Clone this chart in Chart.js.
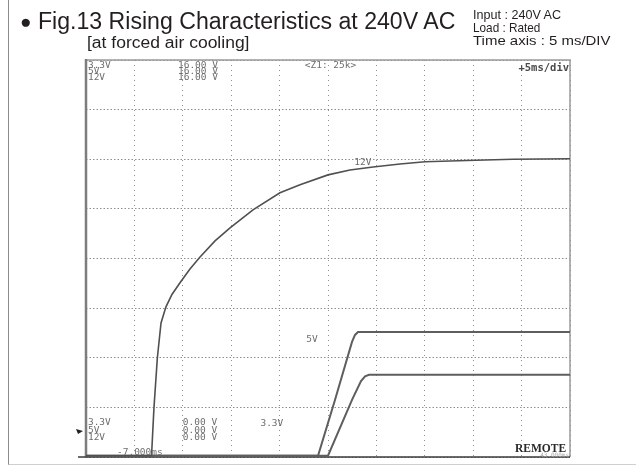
<!DOCTYPE html>
<html>
<head>
<meta charset="utf-8">
<script src="https://cdn.jsdelivr.net/npm/chart.js@4/dist/chart.umd.min.js"></script>
<style>
  html, body { margin: 0; padding: 0; background: #fff; }
  #page { position: relative; width: 636px; height: 467px; overflow: hidden; font-family: "Liberation Sans", Arial, sans-serif; color: #231f20; }
  #frame { position: absolute; left: 8px; top: 0; width: 628px; height: 464px; border-left: 1.5px solid #8c8c8c; border-bottom: 1.5px solid #cfcfcf; }
  .txt { position: absolute; white-space: nowrap; transform-origin: 0 0; }
  #title { left: 20px; top: 8px; font-size: 23px; }
  #title .dot { font-size: 19px; vertical-align: 1px; }
  #sub { left: 87px; top: 34px; font-size: 16px; }
  .cond { left: 473px; font-size: 13px; line-height: 13px; }
  canvas { position: absolute; left: 0; top: 0; }
</style>
</head>
<body>
<div id="page">
  <div id="frame"></div>
  <canvas id="scope" width="636" height="467"></canvas>
  <div class="txt" id="title" data-w="435"><span class="dot">●</span> Fig.13 Rising Characteristics at 240V AC</div>
  <div class="txt" id="sub" data-w="163">[at forced air cooling]</div>
  <div class="txt cond" style="top:8px" data-w="88">Input : 240V AC</div>
  <div class="txt cond" style="top:21px" data-w="67">Load : Rated</div>
  <div class="txt cond" style="top:34px" data-w="137">Time axis : 5 ms/DIV</div>
</div>
<script>
// time in ms (5 ms/div, window -7 ms .. 43 ms), voltage in V (2 V/div)
const gridTimes = [-7, -2, 3, 8, 13, 18, 23, 28, 33, 38, 43];
const gridVolts = [0, 2, 4, 6, 8, 10, 12, 14, 16];

const time12 = [-7, -0.23, 0.02, 0.37, 0.75, 1.26, 1.88, 2.71, 3.74, 4.78, 6.33, 7.88, 10.25, 13.04, 15.11, 18.0, 20.27, 22.65, 25.44, 28.02, 32.36, 37.11, 43];
const volt12 = [0.05, 0.05, 1.98, 3.99, 5.40, 6.05, 6.55, 7.02, 7.58, 8.06, 8.71, 9.23, 9.96, 10.65, 10.97, 11.37, 11.57, 11.69, 11.81, 11.90, 11.95, 12.00, 12.02];

const time5 = [-7, 16.97, 18.72, 20.48, 20.79, 21.10, 43];
const volt5 = [0.05, 0.05, 2.30, 4.64, 4.92, 5.04, 5.04];

const time33 = [-7, 18.0, 20.48, 21.41, 21.83, 22.24, 43];
const volt33 = [0.05, 0.05, 2.30, 3.06, 3.25, 3.31, 3.31];

// scope screen annotations: [text, time, volt, align, style]
const scopeLabels = [
  ['3.3V', -6.8, 15.78, 'left', 'n'], ['5V', -6.8, 15.53, 'left', 'n'], ['12V', -6.8, 15.28, 'left', 'n'],
  ['16.00 V', 2.5, 15.78, 'left', 'n'], ['16.00 V', 2.5, 15.53, 'left', 'n'], ['16.00 V', 2.5, 15.28, 'left', 'n'],
  ['<Z1: 25k>', 15.6, 15.78, 'left', 'n'],
  ['+5ms/div', 42.9, 15.68, 'right', 'b'],
  ['12V', 21.6, 11.85, 'center', 'n'],
  ['5V', 16.35, 4.72, 'center', 'n'],
  ['3.3V', 12.2, 1.33, 'center', 'n'],
  ['3.3V', -6.8, 1.37, 'left', 'n'], ['5V', -6.8, 1.08, 'left', 'n'], ['12V', -6.8, 0.78, 'left', 'n'],
  ['0.00 V', 3.0, 1.37, 'left', 'n'], ['0.00 V', 3.0, 1.08, 'left', 'n'], ['0.00 V', 3.0, 0.78, 'left', 'n'],
  ['-7.000ms', -3.8, 0.20, 'left', 'n'],
  ['43.000ms', 42.9, 0.08, 'right', 's'],
  ['REMOTE', 42.6, 0.32, 'right', 'r']
];

function toPoints(xs, ys) {
    return xs.map((x, i) => ({ x: x, y: ys[i] }));
}

// fit header texts to their measured widths
document.querySelectorAll('.txt').forEach(el => {
    const w = parseFloat(el.dataset.w);
    el.style.transform = 'scaleX(' + (w / el.offsetWidth) + ')';
});

const scopeDecor = {
    id: 'scopeDecor',
    beforeDatasetsDraw(chart) {
        const { ctx, chartArea: a } = chart;
        ctx.save();
        ctx.setLineDash([]);
        // top + right frame
        ctx.strokeStyle = '#9a9a9a';
        ctx.lineWidth = 1.5;
        ctx.beginPath();
        ctx.moveTo(a.left, a.top);
        ctx.lineTo(a.right, a.top);
        ctx.lineTo(a.right, a.bottom);
        ctx.stroke();
        // left frame (thick)
        ctx.strokeStyle = '#7d7d7d';
        ctx.lineWidth = 2.5;
        ctx.beginPath();
        ctx.moveTo(a.left, a.top - 1);
        ctx.lineTo(a.left, a.bottom);
        ctx.stroke();
        // bottom frame, sticks out to the left
        ctx.strokeStyle = '#3a3a3a';
        ctx.lineWidth = 1.5;
        ctx.beginPath();
        ctx.moveTo(a.left - 8, a.bottom);
        ctx.lineTo(a.right, a.bottom);
        ctx.stroke();
        ctx.restore();
    },
    afterDatasetsDraw(chart) {
        const { ctx, chartArea: a, scales: { x, y } } = chart;
        ctx.save();
        ctx.textBaseline = 'middle';
        scopeLabels.forEach(([t, tx, ty, align, st]) => {
            if (st === 'b') {
                ctx.font = 'bold 10.5px "DejaVu Sans Mono", monospace';
                ctx.fillStyle = '#4a4a4a';
            } else if (st === 'r') {
                ctx.font = 'bold 11.5px "Liberation Serif", serif';
                ctx.fillStyle = '#2a2a2a';
            } else if (st === 's') {
                ctx.font = '6px "DejaVu Sans Mono", monospace';
                ctx.fillStyle = '#aaa';
            } else {
                ctx.font = '9.5px "DejaVu Sans Mono", monospace';
                ctx.fillStyle = '#6e6e6e';
            }
            ctx.textAlign = align;
            ctx.fillText(t, x.getPixelForValue(tx), y.getPixelForValue(ty));
        });
        // ground marker arrow at the left edge
        const gy = y.getPixelForValue(1.05);
        ctx.fillStyle = '#222';
        ctx.beginPath();
        ctx.moveTo(a.left - 10, gy - 2);
        ctx.lineTo(a.left - 3, gy);
        ctx.lineTo(a.left - 8, gy + 3);
        ctx.closePath();
        ctx.fill();
        ctx.restore();
    }
};

const gridScale = (ticksList, dash) => ({
    type: 'linear',
    min: ticksList[0],
    max: ticksList[ticksList.length - 1],
    afterBuildTicks: (scale) => { scale.ticks = ticksList.map(v => ({ value: v })); },
    ticks: { display: false },
    grid: { color: '#8f8f8f', lineWidth: 1, drawTicks: false },
    border: { display: false, dash: dash }
});

new Chart(document.getElementById('scope'), {
    type: 'line',
    data: {
        datasets: [
            { label: '12V', data: toPoints(time12, volt12), borderColor: '#505050', borderWidth: 1.6, tension: 0, pointRadius: 0 },
            { label: '5V', data: toPoints(time5, volt5), borderColor: '#5e5e5e', borderWidth: 2, tension: 0, pointRadius: 0 },
            { label: '3.3V', data: toPoints(time33, volt33), borderColor: '#5e5e5e', borderWidth: 2, tension: 0, pointRadius: 0 }
        ]
    },
    options: {
        responsive: false,
        animation: false,
        layout: { padding: { left: 86, top: 60, right: 66, bottom: 10 } },
        plugins: { legend: { display: false }, tooltip: { enabled: false } },
        scales: {
            x: gridScale(gridTimes, [1, 4]),
            y: gridScale(gridVolts, [1.5, 2])
        }
    },
    plugins: [scopeDecor]
});
</script>
</body>
</html>
